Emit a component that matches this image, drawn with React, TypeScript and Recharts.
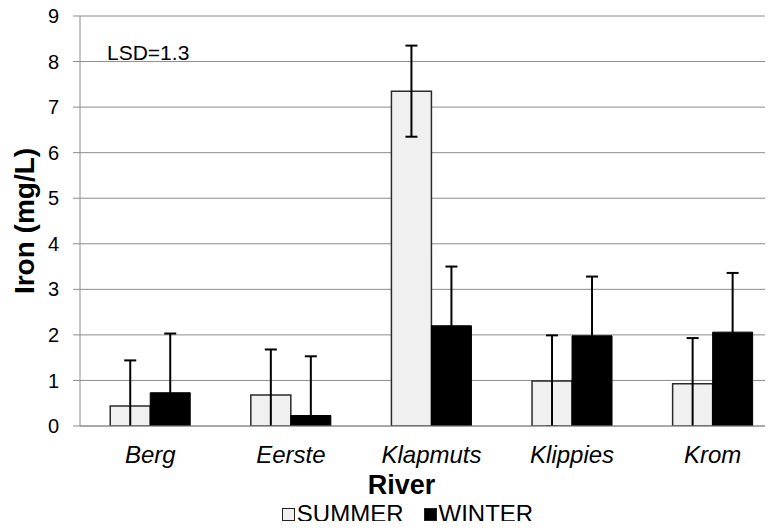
import React from "react";
import {
  Bar,
  BarChart,
  CartesianGrid,
  Customized,
  ErrorBar,
  Legend,
  XAxis,
  YAxis,
} from "recharts";

const rivers = ["Berg", "Eerste", "Klapmuts", "Klippies", "Krom"];
const summerIron = [0.44, 0.68, 7.35, 0.99, 0.93];
const winterIron = [0.73, 0.23, 2.2, 1.98, 2.06];
const summerError = [1.0, 1.0, 1.0, 1.0, 1.0];
const winterError = [1.3, 1.3, 1.3, 1.3, 1.3];
const yTicks = [0, 1, 2, 3, 4, 5, 6, 7, 8, 9];

const FONT = "'Liberation Sans', Arial, sans-serif";

const data = rivers.map((river, i) => ({
  river,
  summer: summerIron[i],
  winter: winterIron[i],
  summerErr: summerError[i],
  winterErr: winterError[i],
}));

function CategoryTick({ x, y, payload }: any) {
  return (
    <text
      x={x}
      y={y + 29}
      textAnchor="middle"
      fontFamily={FONT}
      fontSize={24}
      fontStyle="italic"
      fill="#000"
    >
      {payload.value}
    </text>
  );
}

function RiverLabel({ viewBox }: any) {
  return (
    <text
      x={viewBox.x + viewBox.width / 2 - 30}
      y={viewBox.y + 68}
      textAnchor="middle"
      fontFamily={FONT}
      fontSize={27}
      fontWeight="bold"
      fill="#000"
    >
      River
    </text>
  );
}

function LegendBox() {
  const item = (fill: string, label: string, gap: number) => (
    <span style={{ display: "inline-flex", alignItems: "center", marginRight: gap }}>
      <span
        style={{
          display: "inline-block",
          width: 11,
          height: 11,
          background: fill,
          border: "1px solid #222",
          marginRight: 2,
        }}
      />
      <span>{label}</span>
    </span>
  );
  return (
    <div
      style={{
        display: "flex",
        justifyContent: "center",
        paddingLeft: 42,
        paddingTop: 16,
        fontFamily: FONT,
        fontSize: 24,
        lineHeight: "24px",
        color: "#000",
      }}
    >
      {item("#f0f0f0", "SUMMER", 20)}
      {item("#000", "WINTER", 0)}
    </div>
  );
}

export default function App() {
  return (
    <div style={{ margin: -8, width: 773, height: 529, background: "#fff", overflow: "hidden" }}>
      <BarChart
        width={773}
        height={529}
        data={data}
        margin={{ top: 16, right: -10, left: 0, bottom: 0 }}
        barCategoryGap="21.5%"
        barGap={0}
        style={{ overflow: "hidden" }}
      >
        <Customized
          component={() => (
            <defs>
              <clipPath id="plotClip">
                <rect x={80} y={0} width={710} height={426} />
              </clipPath>
            </defs>
          )}
        />
        <CartesianGrid vertical={false} stroke="#8c8c8c" strokeWidth={1} />
        <XAxis
          dataKey="river"
          height={60}
          tickLine={false}
          axisLine={{ stroke: "#8c8c8c" }}
          tick={<CategoryTick />}
          interval={0}
          label={<RiverLabel />}
        />
        <YAxis
          width={80}
          domain={[0, 9]}
          ticks={yTicks}
          allowDataOverflow
          interval={0}
          tickSize={7}
          tickMargin={14}
          tickLine={{ stroke: "#8c8c8c" }}
          axisLine={{ stroke: "#8c8c8c" }}
          tick={{ fontFamily: FONT, fontSize: 20, fill: "#000" }}
          label={{
            value: "Iron (mg/L)",
            angle: -90,
            position: "insideLeft",
            offset: 24,
            style: { textAnchor: "middle" },
            fontFamily: FONT,
            fontSize: 28,
            fontWeight: "bold",
            fill: "#000",
          }}
        />
        <Legend
          verticalAlign="bottom"
          height={43}
          wrapperStyle={{ left: 0, width: 773 }}
          content={<LegendBox />}
        />
        <Bar
          dataKey="summer"
          name="SUMMER"
          fill="#f0f0f0"
          stroke="#2a2a2a"
          strokeWidth={1.5}
          isAnimationActive={false}
        >
          <ErrorBar
            dataKey="summerErr"
            width={6}
            stroke="#000"
            strokeWidth={2}
            clipPath="url(#plotClip)"
          />
        </Bar>
        <Bar
          dataKey="winter"
          name="WINTER"
          fill="#000"
          stroke="#000"
          strokeWidth={1}
          isAnimationActive={false}
        >
          <ErrorBar
            dataKey="winterErr"
            width={6}
            stroke="#000"
            strokeWidth={2}
            clipPath="url(#plotClip)"
          />
        </Bar>
        <Customized
          component={() => (
            <text x={107} y={60} fontFamily={FONT} fontSize={21} fill="#000">
              LSD=1.3
            </text>
          )}
        />
      </BarChart>
    </div>
  );
}
